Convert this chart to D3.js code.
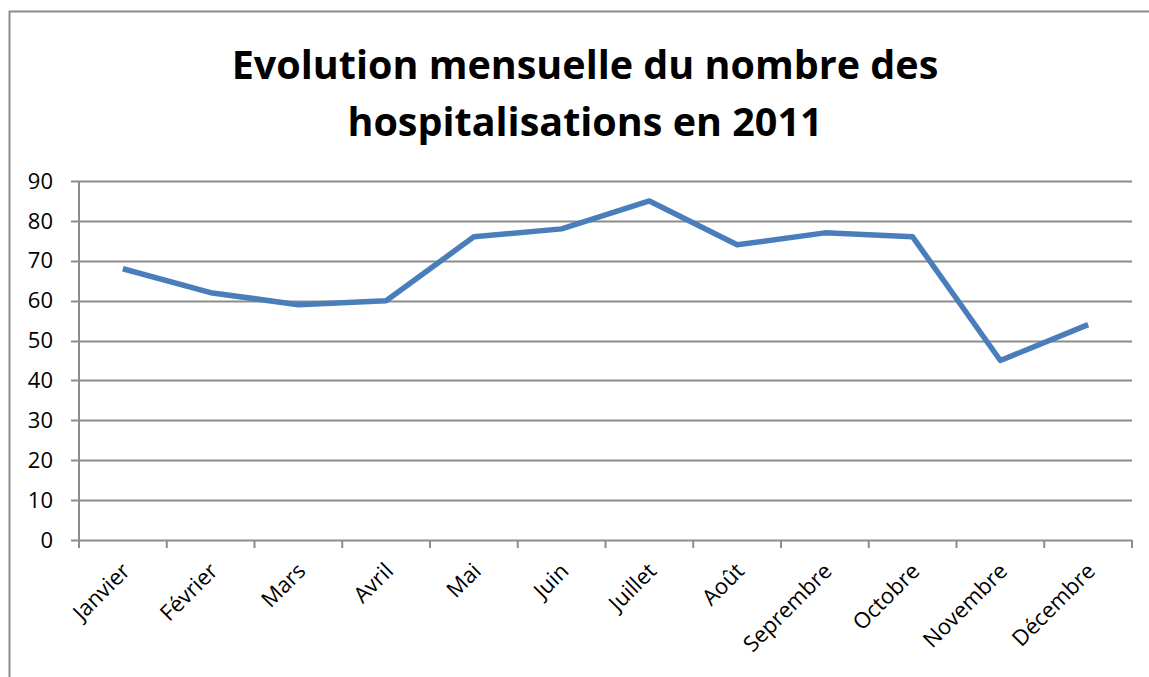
<!DOCTYPE html>
<html>
<head>
<meta charset="utf-8">
<script src="https://cdn.jsdelivr.net/npm/d3@7"></script>
<style>
  body { margin: 0; background: #fff; }
  text { font-family: "Open Sans", "Noto Sans", sans-serif; }
</style>
</head>
<body>
<svg width="1149" height="677"></svg>
<script>
// Data
var months = ["Janvier", "Février", "Mars", "Avril", "Mai", "Juin", "Juillet",
  "Août", "Seprembre", "Octobre", "Novembre", "Décembre"];
var hospitalisations = [68, 62, 59, 60, 76, 78, 85, 74, 77, 76, 45, 54];
var yTicks = [0, 10, 20, 30, 40, 50, 60, 70, 80, 90];
var titleLines = ["Evolution mensuelle du nombre des", "hospitalisations en 2011"];

var svg = d3.select("svg"),
  width = +svg.attr("width"),
  height = +svg.attr("height");

var margin = { left: 79, right: 17, top: 181, bottom: 137 };

// outer frame (only left/top visible)
svg.append("rect")
  .attr("x", 9.5).attr("y", 11.5)
  .attr("width", 1180).attr("height", 700)
  .attr("fill", "none").attr("stroke", "#8c8c8c").attr("stroke-width", 2);

// title
svg.append("g").selectAll("text")
  .data(titleLines)
  .enter().append("text")
  .attr("x", 585)
  .attr("y", function (d, i) { return 79 + i * 57; })
  .attr("text-anchor", "middle")
  .style("font-weight", "bold")
  .style("font-size", "39.5px")
  .attr("fill", "#000")
  .text(function (d) { return d; });

var x = d3.scaleBand()
  .domain(months)
  .range([margin.left, width - margin.right]);

var y = d3.scaleLinear()
  .domain([0, 90])
  .range([height - margin.bottom, margin.top]);

// gridlines
svg.append("g").selectAll("line")
  .data(yTicks)
  .enter().append("line")
  .attr("x1", margin.left - 8)
  .attr("x2", width - margin.right)
  .attr("y1", function (d) { return Math.round(y(d)) + 0.5; })
  .attr("y2", function (d) { return Math.round(y(d)) + 0.5; })
  .attr("stroke", "#8c8c8c")
  .attr("stroke-width", 2);

// y axis line
svg.append("line")
  .attr("x1", margin.left).attr("x2", margin.left)
  .attr("y1", y(90)).attr("y2", y(0) + 8)
  .attr("stroke", "#8c8c8c").attr("stroke-width", 2);

// x ticks at band edges
var edges = months.map(function (m) { return x(m); }).concat([x.range()[1]]);
svg.append("g").selectAll("line")
  .data(edges)
  .enter().append("line")
  .attr("x1", function (d) { return d; })
  .attr("x2", function (d) { return d; })
  .attr("y1", y(0))
  .attr("y2", y(0) + 8)
  .attr("stroke", "#8c8c8c").attr("stroke-width", 2);

// y labels
svg.append("g").selectAll("text")
  .data(yTicks)
  .enter().append("text")
  .attr("x", 53)
  .attr("y", function (d) { return y(d); })
  .attr("dy", "0.35em")
  .attr("text-anchor", "end")
  .style("font-size", "22px")
  .text(function (d) { return d; });

// x labels
svg.append("g").selectAll("text")
  .data(months)
  .enter().append("text")
  .attr("transform", function (d) {
    return "translate(" + (x(d) + x.bandwidth() / 2 + 3) + "," + (y(0) + 27) + ") rotate(-45)";
  })
  .attr("text-anchor", "end")
  .attr("dy", "0.35em")
  .style("font-size", "22px")
  .text(function (d) { return d; });

// line
var line = d3.line()
  .x(function (d, i) { return x(months[i]) + x.bandwidth() / 2; })
  .y(function (d) { return y(d); });

svg.append("path")
  .datum(hospitalisations)
  .attr("d", line)
  .attr("fill", "none")
  .attr("stroke", "#4a7ebb")
  .attr("stroke-width", 5.5)
  .attr("stroke-linejoin", "round");
</script>
</body>
</html>
